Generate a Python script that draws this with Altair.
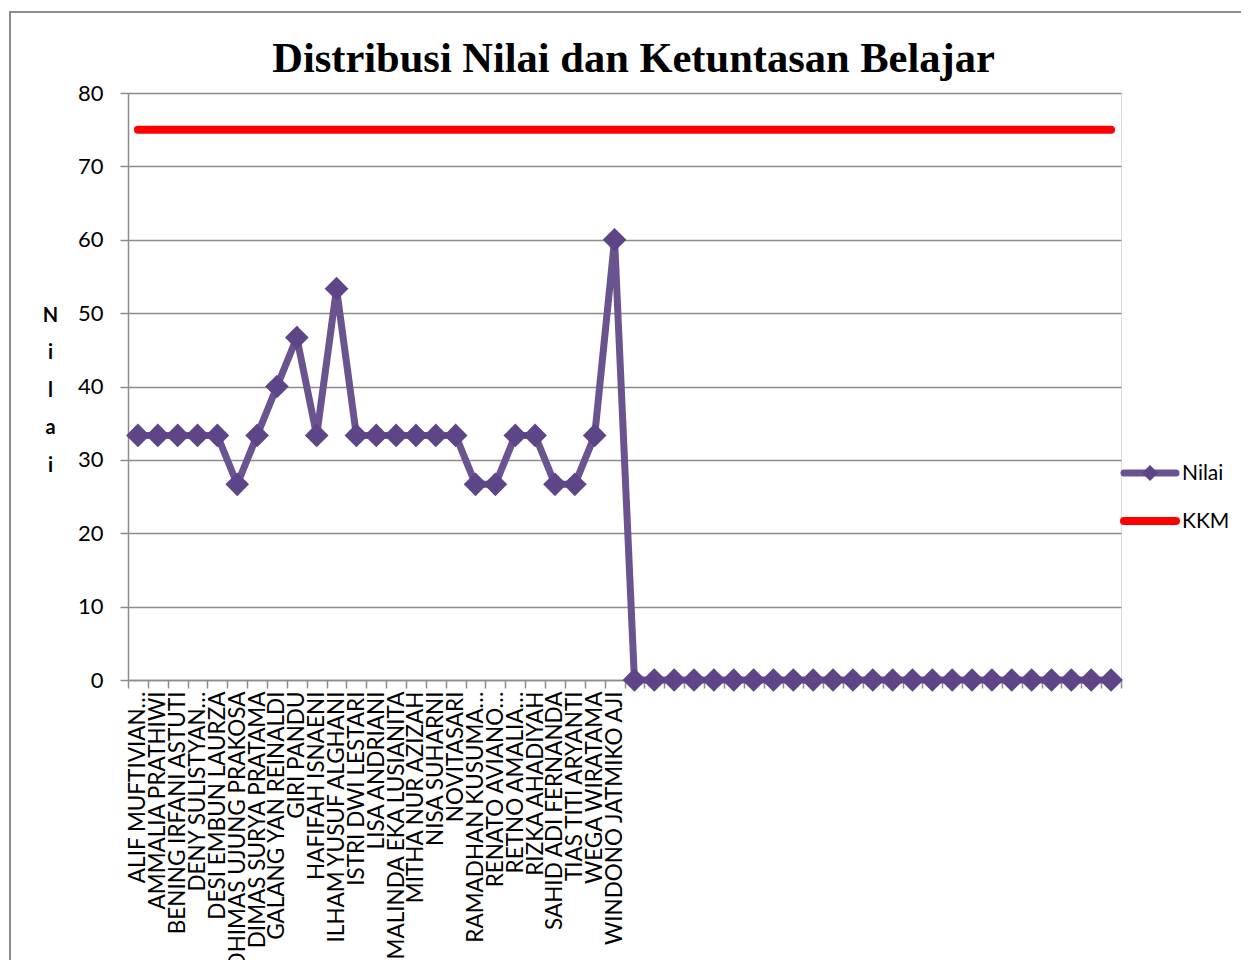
import json
import altair as alt
import pandas as pd

students = [
    "ALIF MUFTIVIAN…", "AMMALIA PRATHIWI", "BENING IRFANI ASTUTI", "DENY SULISTYAN…",
    "DESI EMBUN LAURZA", "DHIMAS UJUNG PRAKOSA", "DIMAS SURYA PRATAMA", "GALANG YAN REINALDI",
    "GIRI PANDU", "HAFIFAH ISNAENI", "ILHAM YUSUF ALGHANI", "ISTRI DWI LESTARI",
    "LISA ANDRIANI", "MALINDA EKA LUSIANITA", "MITHA NUR AZIZAH", "NISA SUHARNI",
    "NOVITASARI", "RAMADHAN KUSUMA…", "RENATO AVIANO…", "RETNO AMALIA…",
    "RIZKA AHADIYAH", "SAHID ADI FERNANDA", "TIAS TITI ARYANTI", "WEGA WIRATAMA",
    "WINDONO JATMIKO AJI",
]
student_scores = [
    33.33, 33.33, 33.33, 33.33, 33.33, 26.67, 33.33, 40.0, 46.67, 33.33,
    53.33, 33.33, 33.33, 33.33, 33.33, 33.33, 33.33, 26.67, 26.67, 33.33,
    33.33, 26.67, 26.67, 33.33, 60.0,
]
# 25 further unlabeled rows, all plotted at 0
blank_labels = [""] * 25
blank_scores = [0, 0, 0, 0, 0, 0, 0, 0, 0, 0, 0, 0, 0, 0, 0, 0, 0, 0, 0, 0, 0, 0, 0, 0, 0]
kkm_value = 75

labels = students + blank_labels
scores = student_scores + blank_scores
idx = list(range(1, len(labels) + 1))

df = pd.DataFrame({"idx": idx, "label": labels, "Nilai": scores, "KKM": [kkm_value] * len(labels)})

PURPLE = "#6A5490"
DIAMOND = "#5E4588"
RED = "#FF0000"
GRID = "#8C8C8C"

label_expr = json.dumps(labels, ensure_ascii=False) + "[datum.value - 1]"

x_enc = alt.X(
    "idx:O",
    scale=alt.Scale(type="band", paddingInner=0, paddingOuter=0),
    axis=alt.Axis(
        title=None, labelAngle=-90, labelAlign="right", labelBaseline="middle",
        labelFont="Lato", labelFontSize=22.5, labelColor="black", labelPadding=3,
        labelOverlap=False, labelLimit=500, labelExpr=label_expr,
        domainColor=GRID, domainWidth=1.5, tickColor=GRID, tickWidth=1.5,
        tickSize=8, tickBand="extent", grid=False,
    ),
)
y_scale = alt.Scale(domain=[0, 80], nice=False)

base = alt.Chart(df)

y_axis = alt.Axis(
    values=[0, 10, 20, 30, 40, 50, 60, 70, 80],
    grid=True, gridColor=GRID, gridWidth=1.5,
    domainColor=GRID, domainWidth=1.5, tickColor=GRID, tickWidth=1.5, tickSize=8,
    labelFont="Lato", labelFontSize=22, labelColor="black", labelPadding=17,
    title=["N", "i", "l", "a", "i"], titleAngle=0, titleFont="Lato",
    titleFontSize=20, titleFontWeight="bold", titleColor="black",
    titleX=-78, titleY=212, titleAlign="center", titleBaseline="top",
    titleLineHeight=37.5,
)

kkm_line = base.mark_line(color=RED, strokeWidth=8, strokeCap="round").encode(
    x=x_enc, y=alt.Y("KKM:Q", scale=y_scale, axis=y_axis)
)
nilai_line = base.mark_line(color=PURPLE, strokeWidth=7).encode(
    x=x_enc, y=alt.Y("Nilai:Q", scale=y_scale)
)
nilai_pts = base.mark_point(shape="diamond", filled=True, size=560, color=DIAMOND, opacity=1).encode(
    x=x_enc, y=alt.Y("Nilai:Q", scale=y_scale)
)

one = alt.Data(values=[{"k": 1}])
border = alt.Chart(one).mark_rect(fillOpacity=0, stroke=GRID, strokeWidth=2).encode(
    x=alt.value(-118), x2=alt.value(1300), y=alt.value(-81), y2=alt.value(1000)
)
leg_nilai_line = alt.Chart(one).mark_rule(color=PURPLE, strokeWidth=7, strokeCap="round").encode(
    x=alt.value(996), x2=alt.value(1048), y=alt.value(380)
)
leg_nilai_pt = alt.Chart(one).mark_point(shape="diamond", filled=True, size=260, color=DIAMOND, opacity=1).encode(
    x=alt.value(1022), y=alt.value(380)
)
leg_nilai_txt = alt.Chart(one).mark_text(text="Nilai", font="Lato", fontSize=21, align="left", baseline="middle", color="black").encode(
    x=alt.value(1054), y=alt.value(381)
)
leg_kkm_line = alt.Chart(one).mark_rule(color=RED, strokeWidth=8, strokeCap="round").encode(
    x=alt.value(996), x2=alt.value(1048), y=alt.value(428)
)
leg_kkm_txt = alt.Chart(one).mark_text(text="KKM", font="Lato", fontSize=21, align="left", baseline="middle", color="black").encode(
    x=alt.value(1054), y=alt.value(429)
)

chart = alt.layer(
    border, kkm_line, nilai_line, nilai_pts,
    leg_nilai_line, leg_nilai_pt, leg_nilai_txt, leg_kkm_line, leg_kkm_txt,
).properties(
    width=993, height=587,
    autosize=alt.AutoSizeParams(type="none"),
    padding={"left": 120, "top": 85, "right": 120, "bottom": 280},
    title=alt.Title(
        "Distribusi Nilai dan Ketuntasan Belajar",
        font="Liberation Serif", fontSize=42.5, fontWeight="bold", color="black",
        anchor="middle", offset=20, dx=9, dy=89,
    ),
).configure_view(stroke=None).configure(background="white")

chart.save("out.html", embed_options={"renderer": "svg", "actions": False})
